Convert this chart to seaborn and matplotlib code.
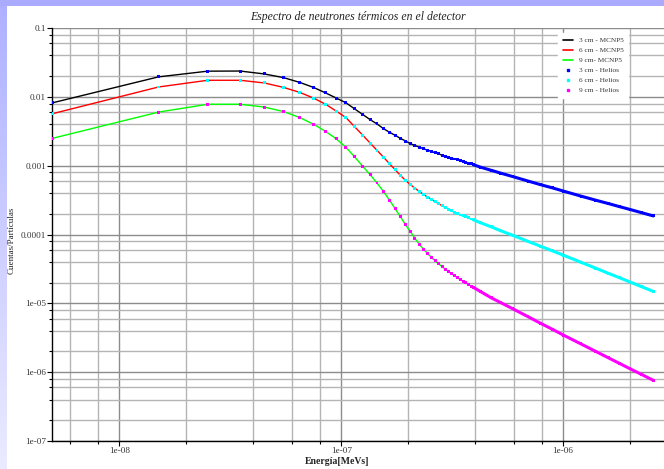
import numpy as np
import pandas as pd
import matplotlib
matplotlib.use("Agg")
import matplotlib.pyplot as plt
from matplotlib.lines import Line2D
from matplotlib.patches import Rectangle
from matplotlib.ticker import FixedLocator, FixedFormatter, LogLocator, NullFormatter
import seaborn as sns

# ---------------- data ----------------
energy = [
    5e-9, 1.5e-8, 2.5e-8, 3.5e-8, 4.5e-8, 5.5e-8, 6.5e-8, 7.5e-8, 8.5e-8, 9.5e-8,
    1.05e-7, 1.15e-7, 1.25e-7, 1.35e-7, 1.45e-7, 1.55e-7, 1.65e-7, 1.75e-7, 1.85e-7, 1.95e-7,
    2.05e-7, 2.15e-7, 2.25e-7, 2.35e-7, 2.45e-7, 2.55e-7, 2.65e-7, 2.75e-7, 2.85e-7, 2.95e-7,
    3.05e-7, 3.15e-7, 3.25e-7, 3.35e-7, 3.45e-7, 3.55e-7, 3.65e-7, 3.75e-7, 3.85e-7, 3.95e-7,
    4.25e-7, 4.75e-7, 5.25e-7, 5.95e-7, 6.95e-7, 7.95e-7, 8.95e-7, 1.005e-6,
    1.205e-6, 1.405e-6, 1.605e-6, 1.805e-6, 2.005e-6, 2.255e-6, 2.555e-6,
]

flux_3cm = [
    8.2e-3, 1.95e-2, 2.36e-2, 2.37e-2, 2.15e-2, 1.90e-2, 1.62e-2, 1.37e-2, 1.14e-2, 9.6e-3,
    8.2e-3, 6.67e-3, 5.54e-3, 4.66e-3, 4.04e-3, 3.45e-3, 3.06e-3, 2.76e-3, 2.49e-3, 2.28e-3,
    2.09e-3, 1.96e-3, 1.86e-3, 1.76e-3, 1.68e-3, 1.61e-3, 1.54e-3, 1.48e-3, 1.42e-3, 1.37e-3,
    1.33e-3, 1.29e-3, 1.25e-3, 1.21e-3, 1.175e-3, 1.14e-3, 1.11e-3, 1.085e-3, 1.06e-3, 1.03e-3,
    9.5e-4, 8.55e-4, 7.77e-4, 6.93e-4, 5.98e-4, 5.28e-4, 4.76e-4, 4.27e-4,
    3.61e-4, 3.15e-4, 2.81e-4, 2.53e-4, 2.31e-4, 2.08e-4, 1.86e-4,
]

flux_6cm = [
    5.7e-3, 1.39e-2, 1.74e-2, 1.74e-2, 1.59e-2, 1.37e-2, 1.16e-2, 9.6e-3, 7.8e-3, 6.2e-3,
    5.0e-3, 3.67e-3, 2.77e-3, 2.13e-3, 1.67e-3, 1.33e-3, 1.07e-3, 8.75e-4, 7.2e-4, 6.1e-4,
    5.3e-4, 4.7e-4, 4.22e-4, 3.82e-4, 3.5e-4, 3.24e-4, 3.0e-4, 2.8e-4, 2.62e-4, 2.47e-4,
    2.33e-4, 2.2e-4, 2.09e-4, 2.0e-4, 1.92e-4, 1.86e-4, 1.8e-4, 1.74e-4, 1.68e-4, 1.63e-4,
    1.48e-4, 1.29e-4, 1.13e-4, 9.7e-5, 7.95e-5, 6.72e-5, 5.79e-5, 5.0e-5,
    3.95e-5, 3.24e-5, 2.72e-5, 2.34e-5, 2.04e-5, 1.75e-5, 1.49e-5,
]

flux_9cm = [
    2.5e-3, 6.0e-3, 7.8e-3, 7.8e-3, 7.1e-3, 6.1e-3, 5.0e-3, 4.0e-3, 3.15e-3, 2.45e-3,
    1.85e-3, 1.34e-3, 9.8e-4, 7.4e-4, 5.6e-4, 4.23e-4, 3.16e-4, 2.37e-4, 1.81e-4, 1.38e-4,
    1.1e-4, 8.8e-5, 7.2e-5, 6.1e-5, 5.3e-5, 4.65e-5, 4.15e-5, 3.75e-5, 3.4e-5, 3.12e-5,
    2.88e-5, 2.68e-5, 2.5e-5, 2.35e-5, 2.22e-5, 2.1e-5, 1.98e-5, 1.88e-5, 1.78e-5, 1.7e-5,
    1.48e-5, 1.2e-5, 1.02e-5, 8.3e-6, 6.4e-6, 5.1e-6, 4.2e-6, 3.45e-6,
    2.57e-6, 2.0e-6, 1.61e-6, 1.33e-6, 1.12e-6, 9.3e-7, 7.6e-7,
]

mcnp_labels = ["3 cm - MCNP5", "6 cm - MCNP5", "9 cm- MCNP5"]
helios_labels = ["3 cm - Helios", "6 cm - Helios", "9 cm - Helios"]
mcnp_colors = ["#000000", "#ff0000", "#00ff00"]
helios_colors = ["#0000ff", "#00ffff", "#ff00ff"]

title = "Espectro de neutrones térmicos en el detector"
xlabel = "Energía[MeVs]"
ylabel = "Cuentas/Partículas"
xtick_vals = [1e-8, 1e-7, 1e-6]
xtick_labels = ["1e-08", "1e-07", "1e-06"]
ytick_vals = [1e-1, 1e-2, 1e-3, 1e-4, 1e-5, 1e-6, 1e-7]
ytick_labels = ["0.1", "0.01", "0.001", "0.0001", "1e-05", "1e-06", "1e-07"]

# ---------------- tables ----------------
series_vals = [flux_3cm, flux_6cm, flux_9cm]
mcnp_df = pd.concat([
    pd.DataFrame({"energy": energy, "value": v, "series": lab})
    for v, lab in zip(series_vals, mcnp_labels)
], ignore_index=True)
helios_df = pd.concat([
    pd.DataFrame({"energy": energy, "value": v, "series": lab})
    for v, lab in zip(series_vals, helios_labels)
], ignore_index=True)

# ---------------- figure ----------------
sns.set_style("white")
plt.rcParams["font.family"] = ["Liberation Serif", "DejaVu Serif"]

W, H = 664, 469
fig = plt.figure(figsize=(W / 100, H / 100), dpi=100)
fig.patch.set_facecolor("white")

# decorative lavender frame (left gradient strip + top band)
gax = fig.add_axes([0, 0, 7 / W, 1], zorder=-5)
grad = np.linspace(0, 1, 256).reshape(-1, 1)
top_c = np.array([0.68, 0.69, 1.0])
bot_c = np.array([0.92, 0.92, 1.0])
img = top_c[None, None, :] * (1 - grad[:, :, None]) + bot_c[None, None, :] * grad[:, :, None]
gax.imshow(img, aspect="auto", extent=[0, 1, 0, 1])
gax.axis("off")
fig.patches.append(Rectangle((0, 1 - 6 / H), 1, 6 / H, transform=fig.transFigure,
                             facecolor="#aaaaff", edgecolor="none", zorder=-4))

ax_left, ax_top, ax_bot = 52.3, 28, 441
ax = fig.add_axes([ax_left / W, 1 - ax_bot / H, (W - ax_left) / W, (ax_bot - ax_top) / H])
ax.set_facecolor("white")
ax.set_xscale("log")
ax.set_yscale("log")

sns.lineplot(data=mcnp_df, x="energy", y="value", hue="series",
             palette=dict(zip(mcnp_labels, mcnp_colors)), estimator=None, sort=False,
             linewidth=1.0, legend=False, ax=ax, zorder=2)

# dense Helios points merge into a thick band at high energy
for v, c in zip(series_vals, helios_colors):
    e = np.array(energy)
    y = np.array(v)
    m = e >= 3.95e-7
    ax.plot(e[m], y[m], color=c, linewidth=2.2, solid_capstyle="round", zorder=2.5)

sns.scatterplot(data=helios_df, x="energy", y="value", hue="series",
                palette=dict(zip(helios_labels, helios_colors)), marker="s", s=4.5,
                linewidth=0, legend=False, ax=ax, zorder=3)

ax.set_xlim(4.98e-9, 2.853e-6)
ax.set_ylim(1e-7, 0.1)

# ticks and grid
ax.xaxis.set_major_locator(FixedLocator(xtick_vals))
ax.xaxis.set_major_formatter(FixedFormatter(xtick_labels))
ax.yaxis.set_major_locator(FixedLocator(ytick_vals))
ax.yaxis.set_major_formatter(FixedFormatter(ytick_labels))
ax.xaxis.set_minor_locator(LogLocator(base=10, subs=[2, 4, 6, 8], numticks=20))
ax.yaxis.set_minor_locator(LogLocator(base=10, subs=[2, 4, 6, 8], numticks=20))
ax.xaxis.set_minor_formatter(NullFormatter())
ax.yaxis.set_minor_formatter(NullFormatter())
ax.tick_params(which="major", direction="out", length=3.5, width=0.8, pad=1.0,
               labelsize=6.6, colors="black")
ax.tick_params(which="minor", direction="out", length=2.5, width=0.8, colors="black")
ax.tick_params(axis="x", which="both", top=False, bottom=True)
ax.tick_params(axis="y", which="both", right=False, left=True)
for lab in ax.get_xticklabels() + ax.get_yticklabels():
    lab.set_color("#333333")

ax.set_axisbelow(True)
ax.grid(which="major", color="#8c8c8c", linewidth=1.0)
ax.grid(which="minor", color="#b4b4b4", linewidth=1.0)

for s in ["top", "right"]:
    ax.spines[s].set_visible(False)
for s in ["left", "bottom"]:
    ax.spines[s].set_color("black")
    ax.spines[s].set_linewidth(1.0)

ax.set_title(title, fontsize=8.5, style="italic", pad=6, color="#222222")
ax.set_xlabel(xlabel, fontsize=7, fontweight="bold", color="#222222")
ax.set_ylabel(ylabel, fontsize=6.5, color="#222222")
ax.xaxis.set_label_coords((337 - ax_left) / (W - ax_left), -(461 - ax_bot) / (ax_bot - ax_top))
ax.xaxis.label.set_va("center")
ax.yaxis.set_label_coords((12 - ax_left) / (W - ax_left), 1 - (240 - ax_top) / (ax_bot - ax_top))
ax.yaxis.label.set_va("center")

# legend
handles = [Line2D([0], [0], color=c, lw=1.2) for c in mcnp_colors] + \
          [Line2D([0], [0], color=c, lw=0, marker="s", markersize=1.8) for c in helios_colors]
leg = ax.legend(handles, mcnp_labels + helios_labels, loc="upper right",
                bbox_to_anchor=((632 - ax_left) / (W - ax_left), 0.997), fontsize=5.2,
                frameon=True, facecolor="white", edgecolor="white", framealpha=1.0,
                fancybox=False, handlelength=1.4, handletextpad=0.9, labelspacing=0.55,
                borderpad=0.6)
for t in leg.get_texts():
    t.set_color("#333333")

fig.savefig("out.png", dpi=100)
